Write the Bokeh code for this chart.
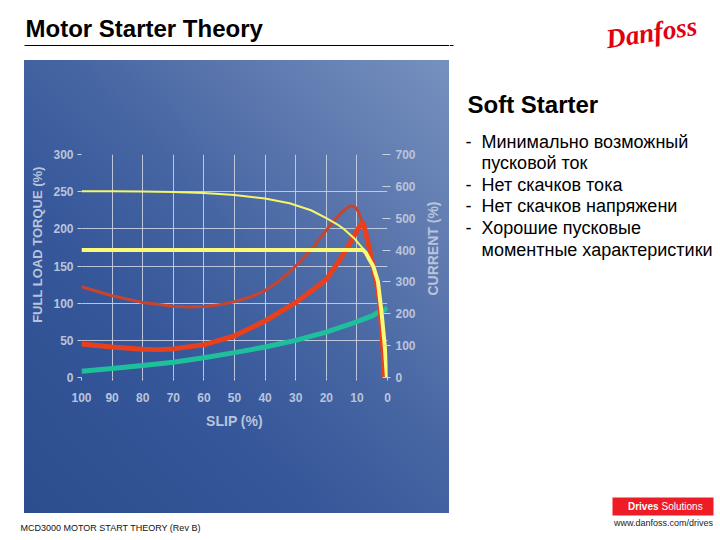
import math
from bokeh.plotting import figure
from bokeh.layouts import row, column
from bokeh.models import Range1d, LinearAxis, FixedTicker, BoxAnnotation
from bokeh.core.properties import value
from bokeh.embed import file_html
from bokeh.resources import INLINE

# ---------------- data ----------------
slip_ticks = [100, 90, 80, 70, 60, 50, 40, 30, 20, 10, 0]
torque_ticks = [0, 50, 100, 150, 200, 250, 300]
current_ticks = [0, 100, 200, 300, 400, 500, 600, 700]

load_slip = [100, 90, 80, 70, 60, 50, 40, 30, 20, 10.7, 5, 3, 0.9, 0]
load_torque = [8.5, 12, 16, 20.6, 26.5, 33.5, 41, 50, 61, 74, 83, 88, 91, 94]

dol_torque_slip = [100, 90, 80, 70, 65, 60, 55, 50, 45, 40, 35, 30, 25, 20, 17, 15, 13,
                   11.8, 10.5, 9.5, 8.5, 7.4, 6.1, 4.7, 3.6, 2.5, 2.0, 1.4, 1.1]
dol_torque = [122, 110, 101, 96, 95, 95.5, 98, 102, 108, 117, 131, 150, 172, 198, 213, 222, 229,
              231, 229, 223, 212, 196, 175, 148, 128, 99, 68, 32, 0]

ss_torque_slip = [100, 90, 80, 75, 70, 60, 50, 40, 30, 25, 20, 15, 12, 9.6, 8.0, 7.4, 6.1,
                  4.7, 3.6, 2.5, 2.0, 1.4, 1.1]
ss_torque = [45, 41, 38, 37.5, 38.5, 44, 56, 76, 101, 116, 132, 162, 183, 200, 209, 200, 177,
             149, 128, 99, 68, 32, 0]

dol_current_slip = [100, 90, 80, 70, 60, 50, 40, 32, 25, 20, 16, 14, 11, 8.5, 7.1, 6, 4.6,
                    3.1, 1.9, 0.9, 0.2]
dol_current = [585, 585, 584, 582, 579, 573, 562, 547, 525, 500, 478, 464, 438, 410, 395, 375,
               350, 300, 200, 100, 0]

ss_current_slip = [100, 8.0, 7.1, 6, 4.6, 3.1, 1.9, 0.9, 0.2]
ss_current = [400, 400, 392, 372, 348, 300, 200, 100, 0]

title_text = "Motor Starter Theory"
panel_heading = "Soft Starter"
bullet_lines = [("-", "Минимально возможный"), ("", "пусковой ток"), ("-", "Нет скачков тока"),
                ("-", "Нет скачков напряжени"), ("-", "Хорошие пусковые"),
                ("", "моментные характеристики")]
footer_text = "MCD3000 MOTOR START THEORY (Rev B)"

# ---------------- styling ----------------
GRID = "#c9d1e3"
AX_TXT = "#b9c4dc"
FONT = "Liberation Sans"
GRADIENT = ("linear-gradient(to top right, #2b4e8e 0%, #36579a 35%, #4565a2 55%, "
            "#5d78ae 75%, #7690bf 100%)")


def text_fig(w, h, x0, y0):
    """Figure whose frame covers the whole canvas; x/y in slide pixels (y down)."""
    f = figure(width=w, height=h, x_range=Range1d(x0, x0 + w), y_range=Range1d(-(y0 + h), -y0),
               min_border=0, x_axis_type=None, y_axis_type=None, toolbar_location=None,
               output_backend="svg", title=None)
    f.outline_line_color = None
    f.border_fill_color = None
    f.background_fill_color = None
    return f


def txt(f, X, Y, s, size, color="black", style="normal", align="left", angle=0.0, font=FONT):
    f.text(x=[X], y=[-Y], text=[s], text_font=value(font), text_font_size=value(size),
           text_font_style=value(style), text_align=value(align), text_baseline=value("middle"),
           text_color=color, angle=angle)


def box(f, x0, x1, y0, y1, color):
    f.add_layout(BoxAnnotation(left=x0, right=x1, top=-y0, bottom=-y1, fill_color=color,
                               fill_alpha=1, line_color=None, level="underlay"))


# ---- header (left part) ----
head = text_fig(449, 60, 0, 0)
txt(head, 25, 28, title_text, "24px", "black", "bold")
box(head, 24, 449, 44.5, 45.5, "black")

# ---- chart block (with gradient background) ----
lstrip = text_fig(24, 453, 24, 60)
txt(lstrip, 37, 243, "FULL LOAD TORQUE (%)", "13px", AX_TXT, "bold", "center", math.pi / 2)

rstrip = text_fig(29, 453, 420, 60)
txt(rstrip, 432, 251, "CURRENT (%)", "14px", AX_TXT, "bold", "center", math.pi / 2)

p = figure(width=372, height=453, output_backend="svg", toolbar_location=None, title=None,
           x_range=Range1d(100, 0), y_range=Range1d(0, 300),
           min_border_left=33, min_border_right=33, min_border_top=94, min_border_bottom=136)
p.extra_y_ranges = {"cur": Range1d(0, 700)}
p.add_layout(LinearAxis(y_range_name="cur"), "right")
p.outline_line_color = None
p.background_fill_color = None
p.border_fill_color = None

p.xgrid.ticker = FixedTicker(ticks=slip_ticks)
p.ygrid.ticker = FixedTicker(ticks=torque_ticks)
for g in (p.xgrid[0], p.ygrid[0]):
    g.grid_line_color = GRID
    g.grid_line_width = 1
    g.grid_line_alpha = 0.9


def style_axis(ax, ticks, tin, tout, standoff):
    ax.ticker = FixedTicker(ticks=ticks)
    ax.axis_line_color = None
    ax.major_tick_line_color = GRID
    ax.major_tick_in = tin
    ax.major_tick_out = tout
    ax.minor_tick_line_color = None
    ax.major_label_text_color = AX_TXT
    ax.major_label_text_font = FONT
    ax.major_label_text_font_style = "bold"
    ax.major_label_text_font_size = "12px"
    ax.major_label_standoff = standoff


style_axis(p.below[0], slip_ticks, 0, 3, 12)
style_axis(p.left[0], torque_ticks, 0, 4, 4)
style_axis(p.right[0], current_ticks, 5, 3, 5)
xa = p.below[0]
xa.axis_label = "SLIP (%)"
xa.axis_label_text_font = FONT
xa.axis_label_text_font_style = "bold"
xa.axis_label_text_font_size = "14px"
xa.axis_label_text_color = AX_TXT
xa.axis_label_standoff = 8

p.line(load_slip, load_torque, line_color="#1ec09c", line_width=5)
p.line(dol_torque_slip, dol_torque, line_color="#c9442f", line_width=3)
p.line(ss_torque_slip, ss_torque, line_color="#e8401c", line_width=5)
p.line(dol_current_slip, dol_current, y_range_name="cur", line_color="#f6f66a", line_width=2)
p.line(ss_current_slip, ss_current, y_range_name="cur", line_color="#fafa78", line_width=4)

chart_block = row([lstrip, p, rstrip], spacing=0, styles={"background": GRADIENT})

lpad = text_fig(24, 453, 0, 60)
mid_left = row([lpad, chart_block], spacing=0)

# ---- footer (left part) ----
foot = text_fig(449, 23, 0, 513)
txt(foot, 20, 527, footer_text, "9px", "#111111")

left_col = column([head, mid_left, foot], spacing=0)

# ---- right part of slide ----
rf = text_fig(267, 536, 449, 0)
box(rf, 449, 453, 44.5, 45.5, "black")
txt(rf, 651, 32, "Danfoss", "27px", "#e2000f", "bold italic", "center", 0.15, "Liberation Serif")
txt(rf, 467, 104, panel_heading, "24px", "black", "bold")
line_y = [141, 162, 184, 205, 227, 249]
for (dash, s), yy in zip(bullet_lines, line_y):
    if dash:
        txt(rf, 465, yy, dash, "18px")
    txt(rf, 481, yy, s, "18px")
box(rf, 612, 713, 497, 515, "#ee1c25")
txt(rf, 658, 506, "Drives", "10px", "white", "bold", "right")
txt(rf, 661, 506, "Solutions", "10px", "white", "normal", "left")
txt(rf, 663, 522, "www.danfoss.com/drives", "9px", "#222222", "normal", "center")

layout = row([left_col, rf], spacing=0)

open("out.html", "w").write(file_html(layout, INLINE))
